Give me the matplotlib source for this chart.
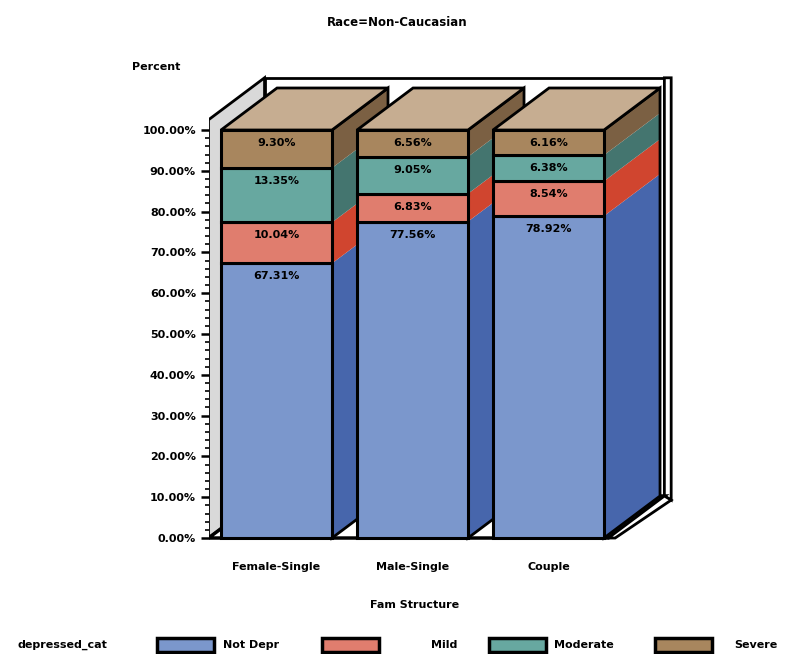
import matplotlib.pyplot as plt
from matplotlib.patches import Polygon, Rectangle
from matplotlib.ticker import FixedLocator, FuncFormatter

# stacked percentages per family structure
groups = ['Female-Single', 'Male-Single', 'Couple']
levels = ['Not Depr', 'Mild', 'Moderate', 'Severe']
not_depr = [67.31, 77.56, 78.92]
mild = [10.04, 6.83, 8.54]
moderate = [13.35, 9.05, 6.38]
severe = [9.30, 6.56, 6.16]

front_col = ['#7b97cc', '#e07d6e', '#67a8a0', '#a8865e']
side_col = ['#4766ac', '#d0452f', '#44756f', '#7b6043']
top_col = '#c6ad91'

# oblique depth offsets (x in category units, y in percent)
dx, dy = 0.412, 10.3
w = 0.816
x0, xr = -0.50, 2.44
wall_h = 102.5
t = 0.05

plt.rcParams['font.family'] = ['DejaVu Sans']
fig = plt.figure(figsize=(7.94, 6.54), dpi=100)
ax = fig.add_axes([208.5 / 794, (654 - 542.1) / 654, (677.7 - 208.5) / 794, (542.1 - 72.9) / 654])
ax.set_xlim(x0, 2.95)
ax.set_ylim(-1, 114)

# back wall, left wall and floor
ax.add_patch(Polygon([(x0 + dx, dy), (xr + dx, dy), (xr + dx, wall_h + dy), (x0 + dx, wall_h + dy)],
                     closed=True, fc='white', ec='black', lw=2, zorder=1))
ax.add_patch(Polygon([(xr + dx, dy), (xr + dx + t, dy - 1), (xr + dx + t, wall_h + dy), (xr + dx, wall_h + dy)],
                     closed=True, fc='white', ec='black', lw=2, zorder=1))
ax.add_patch(Polygon([(x0, 0), (x0, wall_h), (x0 + dx, wall_h + dy), (x0 + dx, dy)],
                     closed=True, fc='#d9d9d9', ec='black', lw=2, zorder=1))
ax.add_patch(Polygon([(x0, 0), (xr, 0), (xr + dx, dy), (x0 + dx, dy)],
                     closed=True, fc='white', ec='black', lw=2.5, zorder=1))
ax.add_patch(Polygon([(xr, 0), (xr + t, 0), (xr + t + dx, dy - 1), (xr + dx, dy)],
                     closed=True, fc='white', ec='black', lw=2, zorder=1))

series = [not_depr, mild, moderate, severe]
for i, g in enumerate(groups):
    z = 2 + i * 3
    vals = [s[i] for s in series]
    left, right = i - w / 2, i + w / 2
    bottom = 0
    for k, v in enumerate(vals):
        top = bottom + v
        ax.add_patch(Polygon([(right, bottom), (right + dx, bottom + dy), (right + dx, top + dy), (right, top)],
                             closed=True, fc=side_col[k], ec='none', zorder=z))
        bottom = top
    # outline of the side face and the top face
    ax.add_patch(Polygon([(right, 0), (right + dx, dy), (right + dx, bottom + dy), (right, bottom)],
                         closed=True, fill=False, ec='black', lw=2, zorder=z))
    ax.add_patch(Polygon([(left, bottom), (right, bottom), (right + dx, bottom + dy), (left + dx, bottom + dy)],
                         closed=True, fc=top_col, ec='black', lw=2, zorder=z))
    bottom = 0
    for k, v in enumerate(vals):
        ax.add_patch(Rectangle((left, bottom), w, v, fc=front_col[k], ec='black', lw=2.2, zorder=z + 1))
        ax.text(i, bottom + v - 3.2, f'{v:.2f}%', ha='center', va='center',
                fontsize=8, fontweight='bold', zorder=z + 2)
        bottom += v

for s in ax.spines.values():
    s.set_visible(False)

ax.set_yticks(range(0, 101, 10))
ax.yaxis.set_minor_locator(FixedLocator([v for v in range(0, 101, 2) if v % 10]))
ax.yaxis.set_major_formatter(FuncFormatter(lambda v, p: f'{v:.2f}%'))
ax.tick_params(axis='y', which='major', length=6, width=1.8, pad=3, labelsize=8)
ax.tick_params(axis='y', which='minor', length=3, width=1.2)
for lab in ax.get_yticklabels():
    lab.set_fontweight('bold')

ax.set_xticks(range(len(groups)))
ax.set_xticklabels(groups, fontsize=8, fontweight='bold')
ax.tick_params(axis='x', length=0, pad=14)

fig.text(0.5, 1 - 22 / 654, 'Race=Non-Caucasian', ha='center', va='center', fontsize=8.5, fontweight='bold')
fig.text(132 / 794, 1 - 67 / 654, 'Percent', ha='left', va='center', fontsize=8, fontweight='bold')
fig.text(415 / 794, 1 - 605 / 654, 'Fam Structure', ha='center', va='center', fontsize=8, fontweight='bold')

# legend row
fig.text(18 / 794, 1 - 645 / 654, 'depressed_cat', ha='left', va='center', fontsize=8, fontweight='bold')
box_x = [157, 322, 489, 655]
lab_x = [223, 431, 554, 734]
for k, name in enumerate(levels):
    fig.patches.append(Rectangle((box_x[k] / 794, 1 - 652 / 654), 57 / 794, 14 / 654, transform=fig.transFigure,
                                 fc=front_col[k], ec='black', lw=2.5))
    fig.text(lab_x[k] / 794, 1 - 645 / 654, name, ha='left', va='center', fontsize=8, fontweight='bold')

fig.savefig('out.png', dpi=100)
